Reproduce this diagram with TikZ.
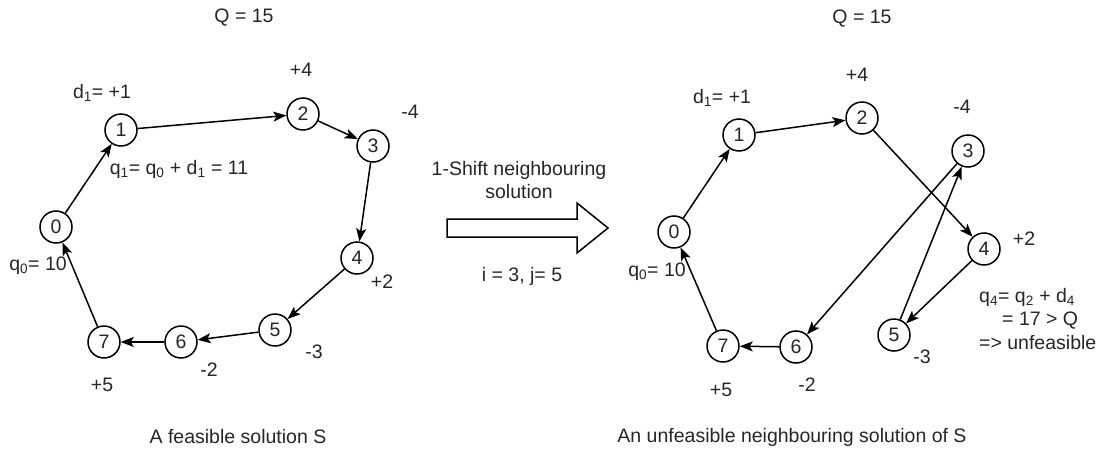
\documentclass[tikz,border=0pt]{standalone}
\usepackage{fontspec}
\setmainfont{Liberation Sans}
\usetikzlibrary{arrows.meta}
\newcommand{\sub}[1]{\textsubscript{#1}}
\begin{document}
\begin{tikzpicture}[x=1pt,y=-1pt,
  every node/.style={font=\fontsize{19.5}{23.5}\selectfont, text=black!85, inner sep=0pt},
  vert/.style={circle, draw=black, line width=1.5pt, minimum size=32pt, fill=white},
  lbl/.style={},
  edge/.style={draw=black, line width=1.5pt, -{Stealth[length=13pt,width=10pt,inset=3pt]}}]
\useasboundingbox (0,0) rectangle (1099,452);
% ---------- left graph ----------
\node[vert] (a0) at (56,227) {0};
\node[vert] (a1) at (121,130) {1};
\node[vert] (a2) at (303,114) {2};
\node[vert] (a3) at (373,146) {3};
\node[vert] (a4) at (357,258) {4};
\node[vert] (a5) at (275,330) {5};
\node[vert] (a6) at (181,342) {6};
\node[vert] (a7) at (104,342) {7};
\draw[edge] (a0) -- (a1);
\draw[edge] (a1) -- (a2);
\draw[edge] (a2) -- (a3);
\draw[edge] (a3) -- (a4);
\draw[edge] (a4) -- (a5);
\draw[edge] (a5) -- (a6);
\draw[edge] (a6) -- (a7);
\draw[edge] (a7) -- (a0);
\node[lbl] (lQ) at (244,18) {Q = 15};
\node[lbl] (lp4) at (301,70) {+4};
\node[lbl] (ld1) at (102,93) {d\sub{1}= +1};
\node[lbl] (lm4) at (410,112) {-4};
\node[lbl] (lq1) at (179,169) {q\sub{1}= q\sub{0} + d\sub{1} = 11};
\node[lbl] (lq0) at (38,266) {q\sub{0}= 10};
\node[lbl] (lp2) at (382,282) {+2};
\node[lbl] (lm3) at (314,352) {-3};
\node[lbl] (lm2) at (209,370) {-2};
\node[lbl] (lp5) at (102,385) {+5};
\node[lbl] (lcap) at (238,437) {A feasible solution S};
% ---------- middle arrow ----------
\node[lbl, align=center] (mtext) at (519,180) {1-Shift neighbouring\\solution};
\draw[black, line width=1.5pt, fill=white, line join=miter]
  (447,219) -- (577,219) -- (577,203) -- (608,228) -- (577,253) -- (577,237) -- (447,237) -- cycle;
\node[lbl] (mij) at (522,276) {i = 3, j= 5};
% ---------- right graph ----------
\node[vert] (b0) at (674,232) {0};
\node[vert] (b1) at (739,135) {1};
\node[vert] (b2) at (862,118) {2};
\node[vert] (b3) at (968,151) {3};
\node[vert] (b4) at (984,249) {4};
\node[vert] (b5) at (894,335) {5};
\node[vert] (b6) at (796,347) {6};
\node[vert] (b7) at (723,346) {7};
\draw[edge] (b0) -- (b1);
\draw[edge] (b1) -- (b2);
\draw[edge] (b2) -- (b4);
\draw[edge] (b4) -- (b5);
\draw[edge] (b5) -- (b3);
\draw[edge] (b3) -- (b6);
\draw[edge] (b6) -- (b7);
\draw[edge] (b7) -- (b0);
\node[lbl] (rQ) at (862,19) {Q = 15};
\node[lbl] (rp4) at (857,75) {+4};
\node[lbl] (rd1) at (722,98) {d\sub{1}= +1};
\node[lbl] (rm4) at (962,107) {-4};
\node[lbl] (rp2) at (1024,239) {+2};
\node[lbl] (rq0) at (657,272) {q\sub{0}= 10};
\node[lbl, align=left, anchor=west] (rq4) at (979,319)
  {q\sub{4}= q\sub{2} + d\sub{4}\\\hspace*{23pt}= 17 > Q\\=> unfeasible};
\node[lbl] (rm3) at (922,357) {-3};
\node[lbl] (rm2) at (807,385) {-2};
\node[lbl] (rp5) at (721,390) {+5};
\node[lbl] (rcap) at (792,437) {An unfeasible neighbouring solution of S};
\end{tikzpicture}
\end{document}
